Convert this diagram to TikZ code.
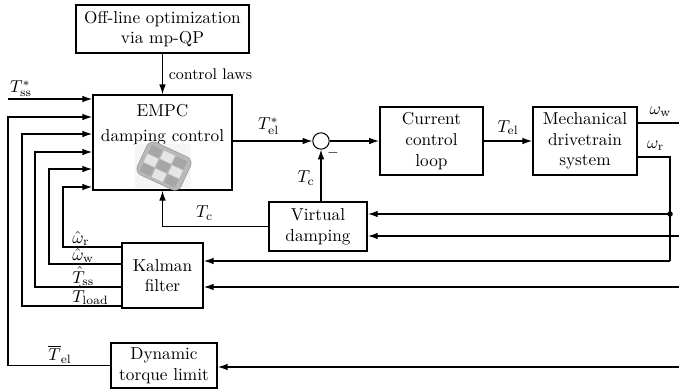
\documentclass[tikz,border=0pt]{standalone}
\usetikzlibrary{positioning,arrows.meta}

\begin{document}
\begin{tikzpicture}[%
    x=0.58pt,
    y=0.58pt,
    >={Latex[length=5.6pt,width=3.8pt]},
    block/.style={%
      draw,
      line width=1.1pt,
      align=center,
      inner sep=1pt
    },
    sumnode/.style={circle, draw, line width=0.6pt, minimum size=9.5pt, inner sep=0pt},
    sig/.style={->, line width=0.6pt},
    wire/.style={line width=0.6pt},
    junction/.style={circle, fill, inner sep=0pt, minimum size=3.2pt},
    estlabel/.style={anchor=base west, inner sep=0pt, yshift=2.2pt}
  ]
    \useasboundingbox (0,0) rectangle (679,390);

    % blocks
    \node[block, minimum width=100pt, minimum height=28pt] (offline) at (162.5,361)  {Off-line optimization\\via mp-QP};
    \node[block, minimum width=80.6pt, minimum height=55pt] (empc)   at (162.5,247.5) {};
    \node[sumnode]                                           (sum)    at (321,249)     {};
    \node[block, minimum width=60pt, minimum height=39.4pt]  (cur)    at (431.5,249)   {Current\\control\\loop};
    \node[block, minimum width=60.3pt, minimum height=39.4pt] (mech)  at (585,249)     {Mechanical\\drivetrain\\system};
    \node[block, minimum width=57pt, minimum height=28.4pt]  (vd)     at (318,163.5)   {Virtual\\damping};
    \node[block, minimum width=47pt, minimum height=37.7pt]  (kal)    at (162.5,114.5) {Kalman\\filter};
    \node[block, minimum width=61.5pt, minimum height=26pt]  (dyn)    at (164,24.5)    {Dynamic\\torque limit};

    % inside the EMPC block
    \node (empctop) at (162.5,279) {EMPC};
    \node (empcmid) at (162.5,253) {damping control};
    \fill[gray!8] (135,202) rectangle (191,246);
    \begin{scope}[shift={(164,224)}, rotate=-25]
      \fill[gray!55, rounded corners=4pt] (-24,-18) rectangle (24,18);
      \foreach \i in {0,1,2}{
        \foreach \j in {0,1,2}{
          \pgfmathtruncatemacro\parity{mod(\i+\j,2)}
          \ifnum\parity=0 \def\fc{gray!70}\else\def\fc{gray!20}\fi
          \fill[\fc] (-20+13.5*\i,-15+10*\j) rectangle ++(12,9);
        }
      }
      \draw[gray!75, rounded corners=4pt, line width=0.4pt] (-24,-18) rectangle (24,18);
    \end{scope}

    % left-hand rails into the EMPC block
    \coordinate (tss)  at (8,291);
    \coordinate (r1)   at (8,273);
    \coordinate (r2h)  at (22,84);
    \coordinate (r2)   at (22,256);
    \coordinate (r3h)  at (35,103);
    \coordinate (r3)   at (35,238);
    \coordinate (r4h)  at (49,126);
    \coordinate (r4)   at (49,221);
    \coordinate (r5h)  at (63,143);
    \coordinate (r5)   at (63,203);

    \draw[sig] (tss) -- (tss -| empc.west);
    \node[anchor=south west, inner sep=1pt] at (tss) {$T_{\mathrm{ss}}^{*}$};

    \draw[sig] (dyn.west) -| (r1) -- (r1 -| empc.west);
    \node[anchor=south, inner sep=1.5pt] at (60,24) {$\overline{T}_{\mathrm{el}}$};

    \draw[sig] (kal.west |- r2h) -- (r2h) -- (r2) -- (r2 -| empc.west);
    \draw[sig] (kal.west |- r3h) -- (r3h) -- (r3) -- (r3 -| empc.west);
    \draw[sig] (kal.west |- r4h) -- (r4h) -- (r4) -- (r4 -| empc.west);
    \draw[sig] (kal.west |- r5h) -- (r5h) -- (r5) -- (r5 -| empc.west);
    \node[estlabel] at (72,143) {$\hat{\omega}_{\mathrm{r}}$};
    \node[estlabel] at (72,126) {$\hat{\omega}_{\mathrm{w}}$};
    \node[estlabel] at (72,103) {$\hat{T}_{\mathrm{ss}}$};
    \node[estlabel] at (72,84)  {$\hat{T}_{\mathrm{load}}$};

    % forward path
    \draw[sig] (offline.south) -- node[right, font=\small] {control laws} (empc.north);
    \draw[sig] (empc.east |- sum) -- node[above, pos=0.45] {$T_{\mathrm{el}}^{*}$} (sum.west);
    \draw[sig] (sum.east) -- (cur.west);
    \draw[sig] (cur.east) -- node[above] {$T_{\mathrm{el}}$} (mech.west);

    % damping torque
    \draw[sig] (sum |- vd.north) -- node[left, pos=0.45] {$T_{\mathrm{c}}$} (sum.south);
    \node[font=\footnotesize] at (333,237) {$-$};
    \draw[sig] (vd.west) -| node[above, pos=0.3] {$T_{\mathrm{c}}$} (empc.south);

    % measurements coming back from the right
    \coordinate (wwend) at (679,267);
    \coordinate (wrc)   at (670,233);
    \coordinate (tap)   at (670,176);
    \coordinate (wrlow) at (670,129);
    \coordinate (vdin)  at (679,154);
    \coordinate (kin)   at (679,103);
    \coordinate (dynin) at (679,23);

    \draw[wire] (mech.east |- wwend) -- node[above, pos=0.55] {$\omega_{\mathrm{w}}$} (wwend);
    \draw[wire] (mech.east |- wrc) -- node[above, pos=0.55] {$\omega_{\mathrm{r}}$} (wrc) -- (wrlow);
    \draw[sig] (wrlow) -- (wrlow -| kal.east);
    \draw[sig] (tap) -- (tap -| vd.east);
    \node[junction] at (tap) {};
    \draw[sig] (vdin) -- (vdin -| vd.east);
    \draw[sig] (kin) -- (kin -| kal.east);
    \draw[sig] (dynin) -- (dynin -| dyn.east);
\end{tikzpicture}
\end{document}
